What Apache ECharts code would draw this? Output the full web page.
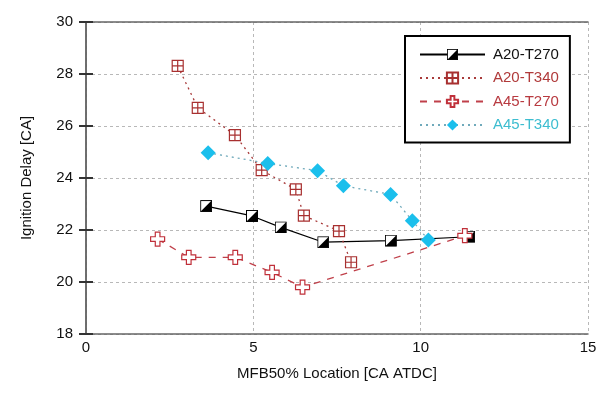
<!DOCTYPE html>
<html>
<head>
<meta charset="utf-8">
<script src="https://cdn.jsdelivr.net/npm/echarts@6/dist/echarts.min.js"></script>
<style>html,body{margin:0;padding:0;background:#fff;}#c{width:605px;height:399px;}</style>
</head>
<body>
<div id="c"></div>
<script>
const seriesNames = ['A20-T270', 'A20-T340', 'A45-T270', 'A45-T340'];
const a20t270X = [3.59, 4.96, 5.82, 7.09, 9.11, 11.45];
const a20t270Y = [22.92, 22.54, 22.10, 21.53, 21.59, 21.74];
const a20t340X = [2.74, 3.34, 4.45, 5.25, 6.27, 6.51, 7.56, 7.92];
const a20t340Y = [28.31, 26.70, 25.65, 24.30, 23.56, 22.55, 21.96, 20.76];
const a45t270X = [2.14, 3.07, 4.46, 5.56, 6.47, 11.32];
const a45t270Y = [21.65, 20.95, 20.95, 20.37, 19.80, 21.78];
const a45t340X = [3.65, 5.43, 6.92, 7.69, 9.10, 9.75, 10.23];
const a45t340Y = [24.97, 24.56, 24.28, 23.70, 23.37, 22.36, 21.62];
const xTicks = [0, 5, 10, 15];
const yTicks = [18, 20, 22, 24, 26, 28, 30];

function pairs(xs, ys) { return xs.map((x, i) => [x, ys[i]]); }

const halfSquareSvg = "<svg xmlns='http://www.w3.org/2000/svg' width='12' height='12'><rect x='0.5' y='0.5' width='11' height='11' fill='white' stroke='black' stroke-width='1'/><path d='M11.5 0.5 L11.5 11.5 L0.5 11.5 Z' fill='black'/></svg>";
const halfSquare = 'image://data:image/svg+xml;charset=utf-8,' + encodeURIComponent(halfSquareSvg);

const chart = echarts.init(document.getElementById('c'), null, {renderer: 'canvas'});
const font = 'Liberation Sans, Arial, sans-serif';
const gridLine = {show: true, lineStyle: {color: '#b8b8b8', type: [3, 3], width: 1}};
const frame = {show: true, lineStyle: {color: '#666', width: 1.5}};

chart.setOption({
  animation: false,
  backgroundColor: '#fff',
  grid: {left: 86, top: 22, right: 17, bottom: 65},
  legend: {
    orient: 'vertical',
    left: 405, top: 36,
    padding: [11, 11, 10, 14],
    borderColor: '#000', borderWidth: 2,
    backgroundColor: '#fff',
    itemWidth: 65, itemHeight: 14, itemGap: 8.5,
    textStyle: {fontFamily: font, fontSize: 15, padding: [0, 0, 0, 3]},
    data: [
      {name: seriesNames[0], textStyle: {color: '#111'}},
      {name: seriesNames[1], textStyle: {color: '#b03a3a'}},
      {name: seriesNames[2], textStyle: {color: '#b83a40'}},
      {name: seriesNames[3], textStyle: {color: '#3dbdd0'}}
    ]
  },
  xAxis: [{
    type: 'value', min: 0, max: 15, interval: 5,
    name: 'MFB50% Location [CA ATDC]', nameLocation: 'middle', nameGap: 32,
    nameTextStyle: {fontFamily: font, fontSize: 15, color: '#111'},
    axisLine: frame, axisTick: {show: false},
    axisLabel: {fontFamily: font, fontSize: 15, color: '#111', margin: 6,
      formatter: v => xTicks.includes(v) ? String(v) : ''},
    splitLine: gridLine
  }, {
    type: 'value', position: 'top', min: 0, max: 15, interval: 5,
    axisLine: frame, axisTick: {show: false}, axisLabel: {show: false}, splitLine: {show: false}
  }],
  yAxis: [{
    type: 'value', min: 18, max: 30, interval: 2,
    name: 'Ignition Delay [CA]', nameLocation: 'middle', nameGap: 52,
    nameTextStyle: {fontFamily: font, fontSize: 15, color: '#111'},
    axisLine: frame,
    axisTick: {show: true, inside: true, length: 7, lineStyle: {color: '#333', width: 2}},
    axisLabel: {fontFamily: font, fontSize: 15, color: '#111', margin: 13,
      formatter: v => yTicks.includes(v) ? String(v) : ''},
    splitLine: gridLine
  }, {
    type: 'value', position: 'right', min: 18, max: 30, interval: 2,
    axisLine: frame,
    axisTick: {show: true, inside: true, length: 7, lineStyle: {color: '#333', width: 2}},
    axisLabel: {show: false}, splitLine: {show: false}
  }],
  series: [
    {
      name: seriesNames[0], type: 'line', data: pairs(a20t270X, a20t270Y),
      symbol: halfSquare, symbolSize: 12,
      lineStyle: {color: '#000', width: 1.2, type: 'solid'},
      itemStyle: {color: '#000'}
    },
    {
      name: seriesNames[1], type: 'line', data: pairs(a20t340X, a20t340Y),
      symbol: 'path://M0,0H10V10H0Z M5,0V10 M0,5H10', symbolSize: 11,
      lineStyle: {color: '#a83a3a', width: 1.3, type: [2, 4]},
      itemStyle: {color: '#fff', borderColor: '#a83030', borderWidth: 1.2}
    },
    {
      name: seriesNames[2], type: 'line', data: pairs(a45t270X, a45t270Y),
      symbol: 'path://M4,0H8V4H12V8H8V12H4V8H0V4H4Z', symbolSize: 14,
      lineStyle: {color: '#c0404a', width: 1.3, type: [7, 7]},
      itemStyle: {color: '#fff', borderColor: '#c0303a', borderWidth: 1.2}
    },
    {
      name: seriesNames[3], type: 'line', data: pairs(a45t340X, a45t340Y),
      symbol: 'diamond', symbolSize: 15,
      lineStyle: {color: '#70aabb', width: 1.3, type: [2, 4]},
      itemStyle: {color: '#1bbfec', borderWidth: 0}
    }
  ]
});
</script>
</body>
</html>
